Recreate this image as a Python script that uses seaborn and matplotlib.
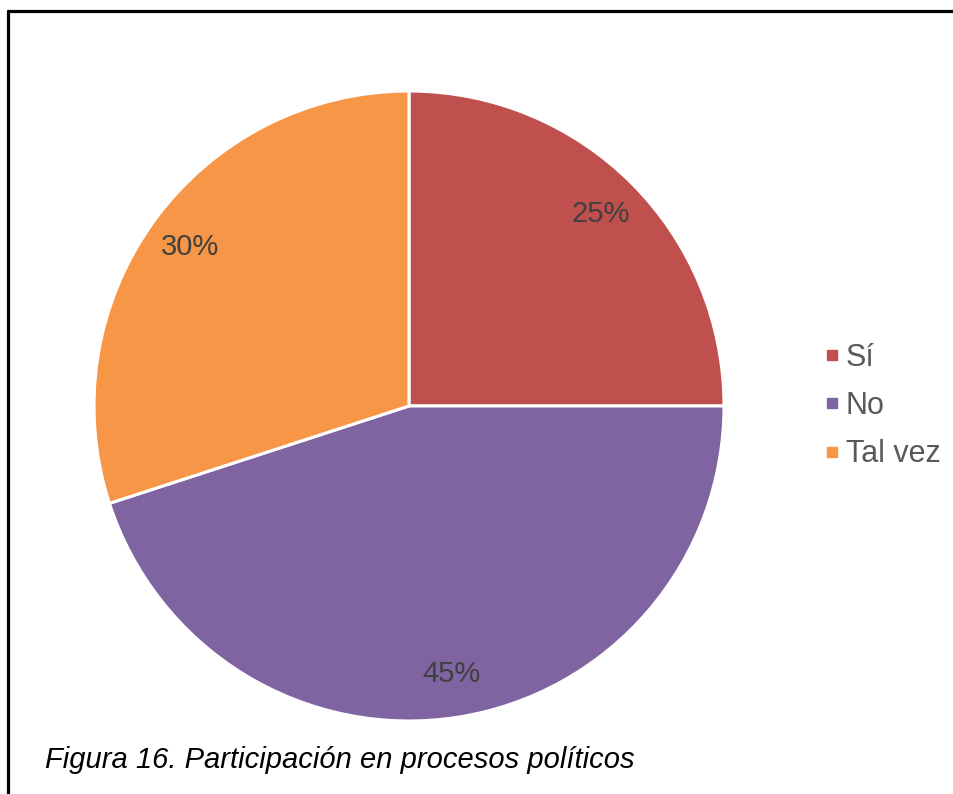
import matplotlib
matplotlib.use("Agg")
import matplotlib.pyplot as plt
from matplotlib.lines import Line2D
import seaborn as sns

# Survey answers: share of respondents per answer
categories = ["Sí", "No", "Tal vez"]
shares = [25, 45, 30]
colors = ["#C0504D", "#8064A2", "#F79646"]
caption = "Figura 16. Participación en procesos políticos"

sns.set_theme(style="white")
plt.rcParams["font.family"] = ["Liberation Sans", "DejaVu Sans"]

W, H = 954, 794
fig = plt.figure(figsize=(W / 100, H / 100), dpi=100)

# pie centred at (409, 406) px with a radius of 315 px
cx, cy, r = 409, 406, 315
ax = fig.add_axes([(cx - r) / W, (H - cy - r) / H, 2 * r / W, 2 * r / H])
palette = sns.color_palette(colors)
wedges, _, autotexts = ax.pie(
    shares,
    colors=palette,
    startangle=90,
    counterclock=False,
    autopct=lambda p: f"{p:.0f}%",
    pctdistance=0.86,
    wedgeprops=dict(edgecolor="white", linewidth=2.2),
    textprops=dict(fontsize=21, color="#404040"),
)
ax.set_xlim(-1, 1)
ax.set_ylim(-1, 1)
ax.set_aspect("equal")
ax.axis("off")

# legend with small square keys
handles = [Line2D([], [], marker="s", linestyle="none", markersize=6.5,
                  markerfacecolor=c, markeredgecolor=c) for c in palette]
fig.legend(handles, categories, loc="center left",
           bbox_to_anchor=(824 / W, (H - 406) / H), frameon=False,
           fontsize=22, labelcolor="#595959", handlelength=0.5,
           handletextpad=0.22, labelspacing=0.6, borderpad=0,
           borderaxespad=0)

# caption under the chart
fig.text(45 / W, (H - 768) / H, caption, fontsize=21, style="italic",
         color="black", ha="left", va="baseline")

# frame lines along the top and left edges
fig.add_artist(Line2D([8 / W, 1], [1 - 11 / H, 1 - 11 / H], color="black",
                      linewidth=2.3, transform=fig.transFigure))
fig.add_artist(Line2D([8 / W, 8 / W], [0, 1 - 11 / H], color="black",
                      linewidth=2.3, transform=fig.transFigure))

fig.savefig("out.png", dpi=100, facecolor="white")
